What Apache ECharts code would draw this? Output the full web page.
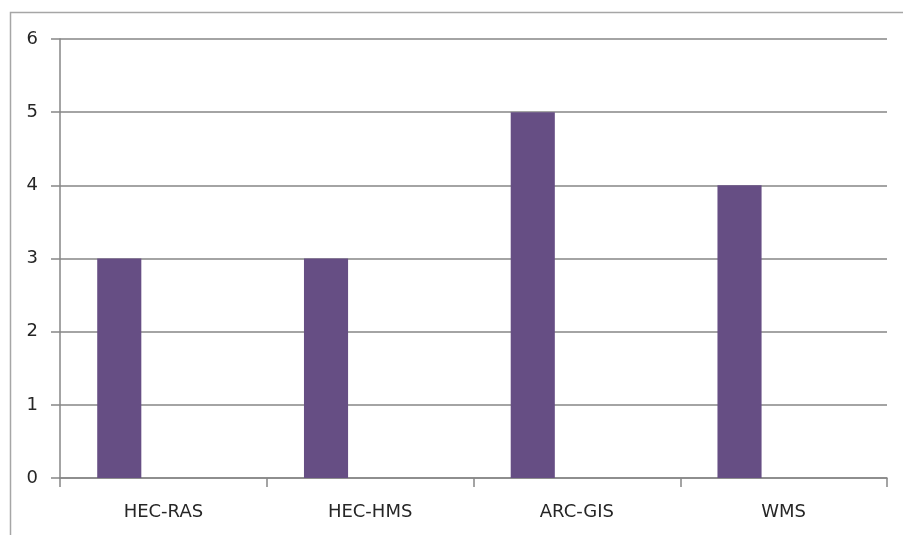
<!DOCTYPE html>
<html>
<head>
<meta charset="utf-8">
<script src="https://cdn.jsdelivr.net/npm/echarts@6/dist/echarts.min.js"></script>
<style>html,body{margin:0;padding:0;background:#fff}#c{width:903px;height:535px}</style>
</head>
<body>
<div id="c"></div>
<script>
var categories = ['HEC-RAS', 'HEC-HMS', 'ARC-GIS', 'WMS'];
var values = [3, 3, 5, 4];
var emptySeriesA = ['-', '-', '-', '-'];
var emptySeriesB = ['-', '-', '-', '-'];
var yTicks = [0, 1, 2, 3, 4, 5, 6];

var chart = echarts.init(document.getElementById('c'), null, {renderer: 'canvas'});
var font = 'DejaVu Sans';
chart.setOption({
  animation: false,
  backgroundColor: '#ffffff',
  graphic: [{
    type: 'rect', left: 8, top: 10, silent: true,
    shape: {width: 920, height: 560},
    style: {fill: 'none', stroke: '#a6a6a6', lineWidth: 1.5}
  }],
  grid: {left: 60, right: 16, top: 39, bottom: 57, containLabel: false},
  xAxis: {
    type: 'category',
    data: categories,
    boundaryGap: true,
    axisLine: {show: true, lineStyle: {color: '#868686', width: 1.5}},
    axisTick: {show: true, length: 9, alignWithLabel: false, lineStyle: {color: '#868686', width: 1.5}},
    axisLabel: {color: '#262626', fontFamily: font, fontSize: 18, margin: 25},
    splitLine: {show: false}
  },
  yAxis: {
    type: 'value',
    min: yTicks[0], max: yTicks[yTicks.length - 1], interval: 1,
    axisLine: {show: true, lineStyle: {color: '#868686', width: 1.5}},
    axisTick: {show: true, length: 9, lineStyle: {color: '#868686', width: 1.5}},
    axisLabel: {color: '#262626', fontFamily: font, fontSize: 18, margin: 22},
    splitLine: {show: true, lineStyle: {color: '#868686', width: 1.5}}
  },
  series: [
    {type: 'bar', data: values, barGap: '0%', barCategoryGap: '36%', itemStyle: {color: '#664e84'}},
    {type: 'bar', data: emptySeriesA, itemStyle: {color: '#664e84'}},
    {type: 'bar', data: emptySeriesB, itemStyle: {color: '#664e84'}}
  ]
});
</script>
</body>
</html>
